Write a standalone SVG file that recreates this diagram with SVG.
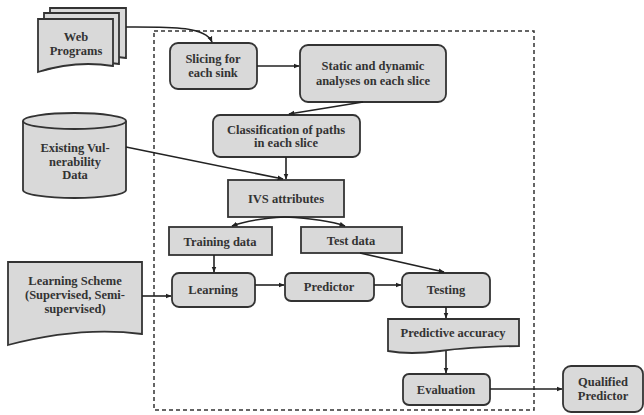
<svg xmlns="http://www.w3.org/2000/svg" width="644" height="415" viewBox="0 0 644 415">
<defs>
<marker id="ah" viewBox="0 0 10 10" refX="9" refY="5" markerWidth="6" markerHeight="6" orient="auto" markerUnits="userSpaceOnUse">
<path d="M0,1 L10,5 L0,9 z" fill="#222"/>
</marker>
<style>
.n{fill:#d9d9d9;stroke:#333;stroke-width:1.8}
.t{font-family:"Liberation Serif",serif;font-size:12.5px;font-weight:bold;fill:#333;text-anchor:middle}
.c{fill:none;stroke:#222;stroke-width:1.6;marker-end:url(#ah)}
</style>
</defs>
<rect width="644" height="415" fill="#fff"/>
<rect x="154" y="31" width="380" height="379" fill="none" stroke="#333" stroke-width="1.5" stroke-dasharray="4,3"/>

<g id="web-programs">
<path class="n" d="M50,8 H126 V58 Q88,52 50,64 Z"/>
<path class="n" d="M44,13 H119 V64 Q82,58 44,70 Z"/>
<path class="n" d="M38,19 H113 V66 Q76,60 38,72 Z"/>
<text class="t" x="76" y="41">Web</text>
<text class="t" x="76" y="55">Programs</text>
</g>

<g id="slicing">
<rect class="n" x="170" y="43" width="87" height="46" rx="8"/>
<text class="t" x="213" y="63">Slicing for</text>
<text class="t" x="213" y="77">each sink</text>
</g>

<g id="static-dynamic">
<rect class="n" x="300" y="45" width="146" height="57" rx="8"/>
<text class="t" x="373" y="70">Static and dynamic</text>
<text class="t" x="373" y="85">analyses on each slice</text>
</g>

<g id="classification">
<rect class="n" x="213" y="115" width="147" height="42" rx="7"/>
<text class="t" x="286" y="134">Classification of paths</text>
<text class="t" x="286" y="147">in each slice</text>
</g>

<g id="existing-data">
<path class="n" d="M23,121 V190 A51.5,8 0 0 0 126,190 V121"/>
<ellipse class="n" cx="74.5" cy="121" rx="51.5" ry="8"/>
<text class="t" x="75" y="152">Existing Vul-</text>
<text class="t" x="75" y="166">nerability</text>
<text class="t" x="75" y="179">Data</text>
</g>

<g id="ivs">
<rect class="n" x="228" y="180" width="116" height="37"/>
<text class="t" x="286" y="203">IVS attributes</text>
</g>

<g id="training-data">
<rect class="n" x="169" y="227" width="103" height="28"/>
<text class="t" x="220" y="246">Training data</text>
</g>

<g id="test-data">
<rect class="n" x="301" y="227" width="101" height="26"/>
<text class="t" x="351" y="245">Test data</text>
</g>

<g id="learning-scheme">
<path class="n" d="M8,262 H142 V334 Q80,326 8,345 Z"/>
<text class="t" x="75" y="285">Learning Scheme</text>
<text class="t" x="75" y="299">(Supervised, Semi-</text>
<text class="t" x="75" y="313">supervised)</text>
</g>

<g id="learning">
<rect class="n" x="172" y="273" width="83" height="34" rx="7"/>
<text class="t" x="213" y="294">Learning</text>
</g>

<g id="predictor">
<rect class="n" x="285" y="273" width="89" height="28" rx="6"/>
<text class="t" x="329" y="291">Predictor</text>
</g>

<g id="testing">
<rect class="n" x="402" y="273" width="88" height="34" rx="7"/>
<text class="t" x="446" y="294">Testing</text>
</g>

<g id="predictive-accuracy">
<path class="n" d="M388,319 H519 V346 Q470,347 440,351 Q410,355 388,351 Z"/>
<text class="t" x="453" y="337">Predictive accuracy</text>
</g>

<g id="evaluation">
<rect class="n" x="403" y="374" width="87" height="31" rx="6"/>
<text class="t" x="446" y="394">Evaluation</text>
</g>

<g id="qualified-predictor">
<rect class="n" x="563" y="366" width="80" height="46" rx="8"/>
<text class="t" x="603" y="386">Qualified</text>
<text class="t" x="603" y="400">Predictor</text>
</g>

<g id="connectors">
<path class="c" d="M126,27 C170,27 205,26 212,42"/>
<path class="c" d="M257,66 H299"/>
<path class="c" d="M363,102 L289,114"/>
<path class="c" d="M286,157 V179"/>
<path class="c" d="M126,147 L283,179"/>
<path class="c" d="M285,217 Q250,219 232,226"/>
<path class="c" d="M285,217 Q325,219 345,226"/>
<path class="c" d="M214,255 V272"/>
<path class="c" d="M142,296 H171"/>
<path class="c" d="M255,285 H284"/>
<path class="c" d="M374,285 H401"/>
<path class="c" d="M360,253 L444,272"/>
<path class="c" d="M446,307 V318"/>
<path class="c" d="M446,351 V373"/>
<path class="c" d="M490,389 H562"/>
</g>
</svg>
